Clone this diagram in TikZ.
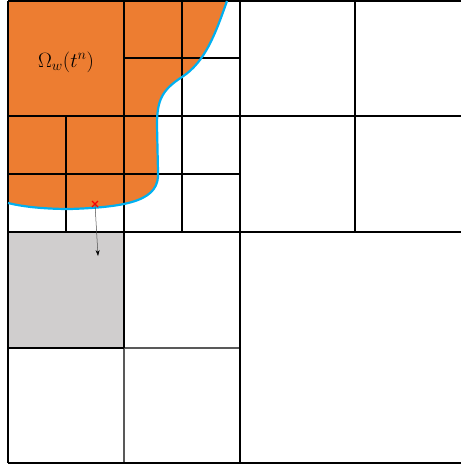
\documentclass[tikz,border=0pt]{standalone}
\usepackage{amsmath}
\usetikzlibrary{arrows.meta}
\definecolor{wetorange}{HTML}{ED7D31}
\definecolor{frontblue}{HTML}{00B0F0}
\definecolor{cellgray}{HTML}{D0CECE}

\begin{document}
\begin{tikzpicture}[x=1pt,y=-1pt,line width=1.1pt]
    \useasboundingbox (0,0) rectangle (461,466);
    % wet region and marked cell
    \fill[wetorange] (8,1) -- (227,1) .. controls (215,35) and (205,62) .. (182,77)
        .. controls (162,90) and (157,100) .. (157,125) -- (158,172)
        .. controls (160,200) and (130,207) .. (70,209)
        .. controls (40,209) and (20,206) .. (8,203) -- cycle;
    \fill[cellgray] (8,232) rectangle (124,348);
    % quadtree cells
    \draw[black!65] (8,348) -- (240,348) (124,348) -- (124,463);
    \draw \foreach \y in {1,116,232,463} {(8,\y) -- (461,\y)}
        (8,174) -- (240,174) (124,58) -- (240,58) (8,348) -- (124,348);
    \draw \foreach \x in {8,240} {(\x,1) -- (\x,463)}
        (124,1) -- (124,348) (355,1) -- (355,232) (182,1) -- (182,232) (66,116) -- (66,232);
    % interface
    \draw[frontblue,line width=2.2pt] (227,1) .. controls (215,35) and (205,62) .. (182,77)
        .. controls (162,90) and (157,100) .. (157,125) -- (158,172)
        .. controls (160,200) and (130,207) .. (70,209)
        .. controls (40,209) and (20,206) .. (8,203);
    \node (omega) at (66,62) {\fontsize{20}{23}\selectfont$\Omega_w(t^n)$};
    \coordinate (probe) at (95,204);
    \coordinate (target) at (98,256);
    \draw[red,line width=1.4pt] (probe) +(-3,-3) -- +(3,3) +(-3,3) -- +(3,-3);
    \draw[line width=0.5pt,black!70,-{Stealth[length=6pt,width=4pt,black]}] (probe) -- (target);
\end{tikzpicture}
\end{document}
